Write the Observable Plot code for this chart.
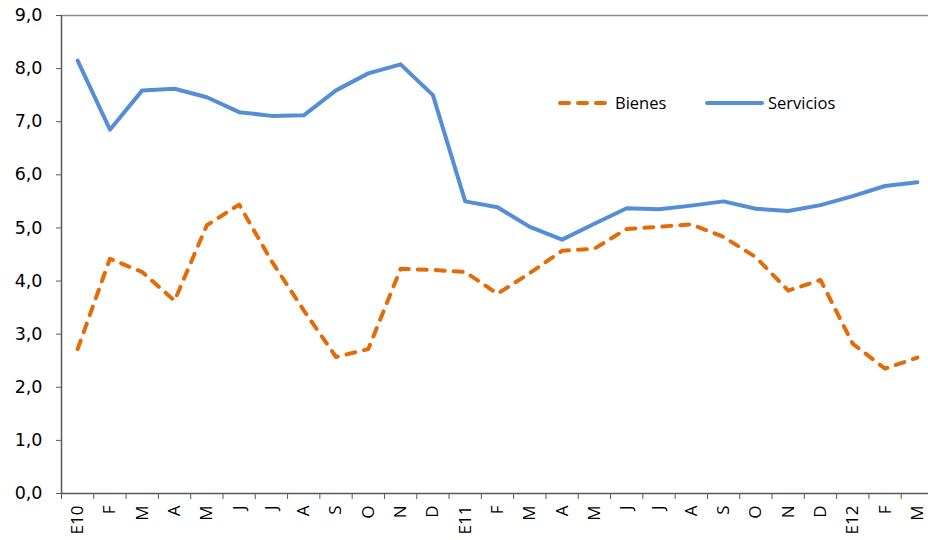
<!DOCTYPE html>
<html>
<head>
<meta charset="utf-8">
<script src="https://cdn.jsdelivr.net/npm/d3@7"></script>
<script src="https://cdn.jsdelivr.net/npm/@observablehq/plot@0.6"></script>
<style>
  html, body { margin: 0; padding: 0; background: #fff; }
  #wrap { position: relative; width: 928px; height: 540px; font-family: "Open Sans", sans-serif; }
  .leg { position: absolute; display: flex; align-items: center; font-size: 16.5px; color: #000; white-space: nowrap; }
  .leg svg { display: block; margin-right: 4px; }
</style>
</head>
<body>
<div id="wrap"></div>
<script>
const labels = ["E10","F","M","A","M","J","J","A","S","O","N","D","E11","F","M","A","M","J","J","A","S","O","N","D","E12","F","M"];
const bienes = [2.72,4.42,4.17,3.63,5.05,5.44,4.38,3.45,2.57,2.72,4.23,4.21,4.17,3.76,4.15,4.57,4.61,4.98,5.02,5.07,4.83,4.45,3.82,4.02,2.82,2.35,2.56];
const servicios = [8.15,6.85,7.59,7.62,7.46,7.18,7.11,7.12,7.59,7.91,8.08,7.50,5.50,5.39,5.02,4.78,5.08,5.37,5.35,5.42,5.50,5.36,5.32,5.43,5.60,5.79,5.86];
const yTicks = [0,1,2,3,4,5,6,7,8,9];
const seriesNames = ["Bienes", "Servicios"];
const colors = ["#E36C0A", "#558ED5"];

const idx = labels.map((_, i) => i);
const bounds = d3.range(labels.length + 1).map(i => i - 0.5);
const fmtY = d => d.toFixed(1).replace(".", ",");

const chart = Plot.plot({
  width: 928,
  height: 540,
  marginTop: 15,
  marginBottom: 47,
  marginLeft: 61,
  marginRight: -5,
  style: { fontFamily: "Open Sans, sans-serif", fontSize: "17px", color: "#000", background: "#fff", overflow: "hidden" },
  x: { type: "linear", domain: [-0.5, labels.length - 0.5] },
  y: { domain: [0, 9] },
  marks: [
    Plot.ruleY([9], { stroke: "#8c8c8c", strokeWidth: 1.5 }),
    Plot.axisY({ ticks: yTicks, tickFormat: () => "", tickSize: 5, stroke: "#595959", strokeOpacity: 1, label: null }),
    Plot.text(yTicks, { y: d => d, frameAnchor: "left", text: fmtY, textAnchor: "end", dx: -19, fontSize: 17.5, fontFamily: "DejaVu Sans", fill: "#000" }),
    Plot.axisX({ ticks: bounds, tickSize: 6, tickFormat: () => "", stroke: "#595959", strokeOpacity: 1, label: null }),
    Plot.axisX({ ticks: idx, tickSize: 0, tickPadding: 12, tickRotate: -90, tickFormat: i => labels[i], fontSize: 17, label: null }),
    Plot.ruleX([-0.5], { stroke: "#595959", strokeWidth: 1.5 }),
    Plot.ruleY([0], { stroke: "#595959", strokeWidth: 1.5 }),
    Plot.line(bienes, { x: (d, i) => i, y: d => d, stroke: colors[0], strokeWidth: 4, strokeDasharray: "9,9", strokeLinecap: "round", strokeLinejoin: "round" }),
    Plot.line(servicios, { x: (d, i) => i, y: d => d, stroke: colors[1], strokeWidth: 4, strokeLinecap: "round", strokeLinejoin: "round" })
  ]
});

const wrap = document.getElementById("wrap");
wrap.appendChild(chart);

function legendItem(name, color, dashed, left, swW) {
  const div = document.createElement("div");
  div.className = "leg";
  div.style.left = left + "px";
  div.style.top = "91px";
  div.innerHTML = `<svg width="${swW + 4}" height="10"><line x1="2" y1="5" x2="${swW + 2}" y2="5" stroke="${color}" stroke-width="4" stroke-linecap="round" ${dashed ? 'stroke-dasharray="9,9"' : ''}/></svg><span>${name}</span>`;
  wrap.appendChild(div);
}
legendItem(seriesNames[0], colors[0], true, 558, 49);
legendItem(seriesNames[1], colors[1], false, 705, 55);
</script>
</body>
</html>
